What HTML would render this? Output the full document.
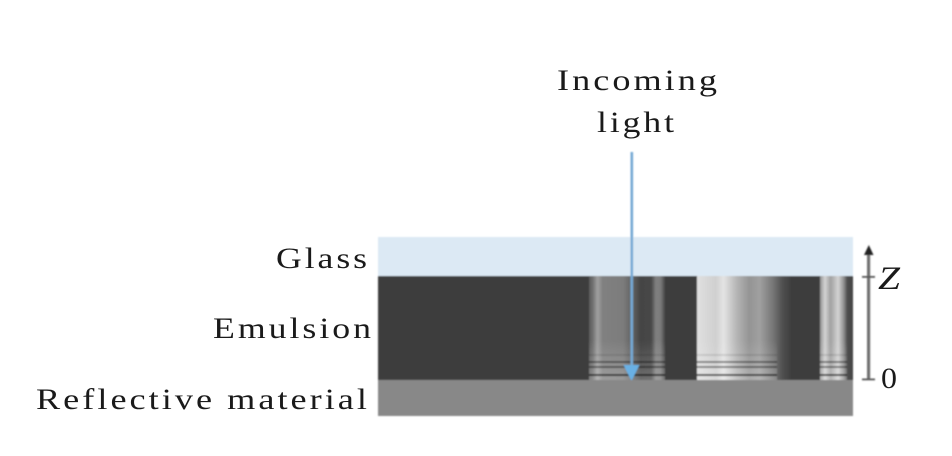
<!DOCTYPE html>
<html>
<head>
<meta charset="utf-8">
<style>
html,body{margin:0;padding:0;background:#fff;}
svg{display:block;}
text{font-family:"Liberation Serif",serif;fill:#1a1a1a;font-size:30px;letter-spacing:2.5px;}
</style>
</head>
<body>
<svg width="952" height="456" viewBox="0 0 952 456" xmlns="http://www.w3.org/2000/svg">
<defs>
<filter id="b" x="-5%" y="-5%" width="110%" height="110%"><feGaussianBlur stdDeviation="0.8"/></filter>
<linearGradient id="c1" x1="589" x2="665" y1="0" y2="0" gradientUnits="userSpaceOnUse">
<stop offset="0" stop-color="#5a5a5a"/>
<stop offset="0.05" stop-color="#707070"/>
<stop offset="0.11" stop-color="#a0a0a0"/>
<stop offset="0.18" stop-color="#808080"/>
<stop offset="0.45" stop-color="#7c7c7c"/>
<stop offset="0.6" stop-color="#5a5a5a"/>
<stop offset="0.68" stop-color="#444"/>
<stop offset="0.82" stop-color="#484848"/>
<stop offset="0.88" stop-color="#808080"/>
<stop offset="0.94" stop-color="#7c7c7c"/>
<stop offset="1" stop-color="#464646"/>
</linearGradient>
<linearGradient id="c2" x1="697" x2="792" y1="0" y2="0" gradientUnits="userSpaceOnUse">
<stop offset="0" stop-color="#e0e0e0"/>
<stop offset="0.2" stop-color="#cfcfcf"/>
<stop offset="0.28" stop-color="#e4e4e4"/>
<stop offset="0.42" stop-color="#b4b4b4"/>
<stop offset="0.55" stop-color="#949494"/>
<stop offset="0.66" stop-color="#a0a0a0"/>
<stop offset="0.8" stop-color="#767676"/>
<stop offset="0.9" stop-color="#505050"/>
<stop offset="1" stop-color="#3c3c3c"/>
</linearGradient>
<linearGradient id="c3" x1="820" x2="853" y1="0" y2="0" gradientUnits="userSpaceOnUse">
<stop offset="0" stop-color="#909090"/>
<stop offset="0.15" stop-color="#d4d4d4"/>
<stop offset="0.32" stop-color="#a0a0a0"/>
<stop offset="0.55" stop-color="#d4d4d4"/>
<stop offset="0.72" stop-color="#909090"/>
<stop offset="0.82" stop-color="#505050"/>
<stop offset="1" stop-color="#424242"/>
</linearGradient>
<linearGradient id="fade" x1="0" x2="0" y1="340" y2="380" gradientUnits="userSpaceOnUse">
<stop offset="0" stop-color="#fff" stop-opacity="0"/>
<stop offset="1" stop-color="#fff" stop-opacity="0.22"/>
</linearGradient>
<clipPath id="cols">
<rect x="589" y="276" width="76" height="104"/>
<rect x="697" y="276" width="80" height="104"/>
<rect x="820" y="276" width="27" height="104"/>
</clipPath>
</defs>

<g filter="url(#b)">
<rect x="378" y="237" width="475" height="39" fill="#dce9f4"/>
<rect x="378" y="276" width="475" height="104" fill="#3c3c3c"/>
<rect x="378" y="380" width="475" height="36" fill="#888888"/>
<rect x="589" y="276" width="76" height="104" fill="url(#c1)"/>
<rect x="697" y="276" width="95" height="104" fill="url(#c2)"/>
<rect x="820" y="276" width="33" height="104" fill="url(#c3)"/>
<g clip-path="url(#cols)">
<rect x="580" y="340" width="280" height="40" fill="url(#fade)"/>
<rect x="580" y="354" width="280" height="2" fill="#000" opacity="0.1"/>
<rect x="580" y="361" width="280" height="2" fill="#000" opacity="0.4"/>
<rect x="580" y="366" width="280" height="2" fill="#000" opacity="0.4"/>
<rect x="580" y="374" width="280" height="2" fill="#000" opacity="0.6"/>
</g>
<rect x="630.5" y="152" width="2.6" height="216" fill="#74a9d4"/>
<polygon points="623.5,365 639.5,365 632,380 631,380" fill="#69b0e4"/>
<rect x="867" y="252" width="3.2" height="127" fill="#707070"/>
<polygon points="868.8,245 864,255 873.5,255" fill="#222"/>
<rect x="862" y="276" width="13" height="1.8" fill="#555"/>
<rect x="862" y="378.5" width="13" height="1.8" fill="#555"/>
</g>

<text x="557" y="90" textLength="163" lengthAdjust="spacingAndGlyphs">Incoming</text>
<text x="597" y="132" textLength="80" lengthAdjust="spacingAndGlyphs">light</text>
<text x="276" y="268" textLength="94" lengthAdjust="spacingAndGlyphs">Glass</text>
<text x="213" y="338" textLength="161" lengthAdjust="spacingAndGlyphs">Emulsion</text>
<text x="36" y="409" textLength="334" lengthAdjust="spacingAndGlyphs">Reflective material</text>
<text x="878" y="289" style="font-style:italic;font-size:33px;letter-spacing:0" textLength="22" lengthAdjust="spacingAndGlyphs">Z</text>
<text x="881" y="388" style="letter-spacing:0" textLength="16" lengthAdjust="spacingAndGlyphs">0</text>
</svg>
</body>
</html>
